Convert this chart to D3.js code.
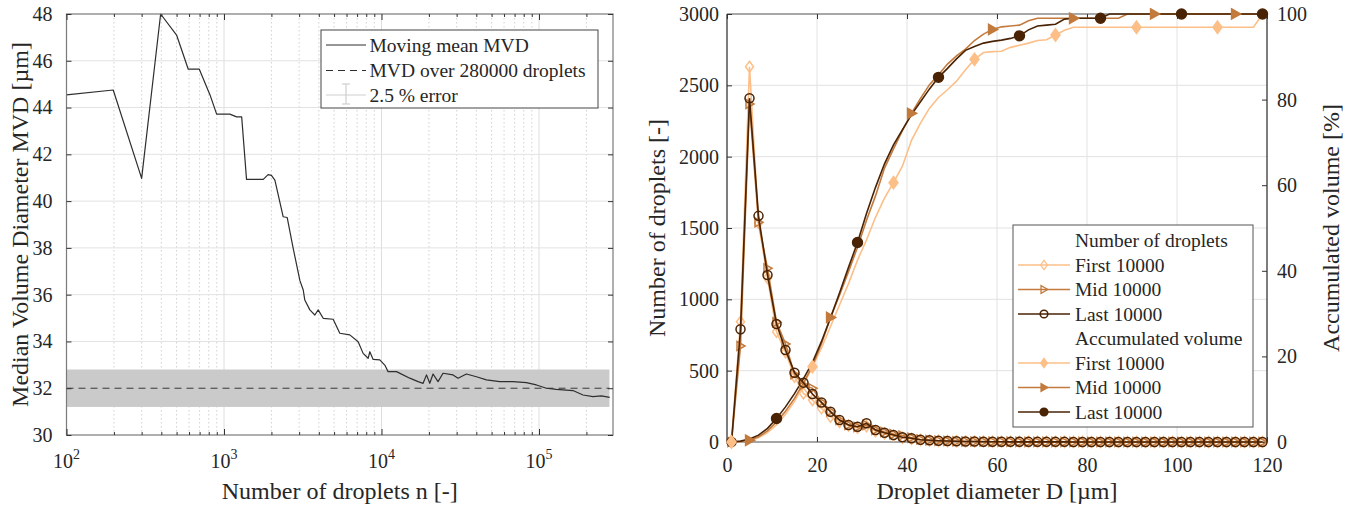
<!DOCTYPE html>
<html><head><meta charset="utf-8">
<script src="https://cdn.jsdelivr.net/npm/d3@7"></script>
<style>body{margin:0;background:#fff}svg{font-family:"Liberation Serif","Times New Roman",serif}</style>
</head><body><script>
// ---------------- DATA: left chart ----------------
const mvdN = [100,198,300,396,500,593,697,815,898,1089,1202,1295,1390,1775,1906,2000,2104,2376,2518,2750,3034,3185,3258,3508,3774,3963,4265,4933,5435,6290,7107,7645,8225,8430,8850,9750,10490,11010,12450,15130,17080,18370,19310,20250,21250,22850,24590,28460,30620,34600,40060,46380,56310,68440,83180,96300,111500,128900,164300,190300,220100,248900,281000];
const mvdVal = [44.54,44.75,40.97,48.0,47.1,45.64,45.64,44.54,43.72,43.72,43.6,43.6,40.93,40.93,41.13,41.1,40.9,39.33,39.3,37.98,36.6,36.2,35.77,35.35,35.13,35.35,34.99,34.95,34.35,34.28,33.99,33.49,33.28,33.56,33.23,33.21,32.99,32.71,32.71,32.43,32.28,32.21,32.57,32.21,32.61,32.28,32.64,32.57,32.43,32.61,32.49,32.36,32.28,32.28,32.24,32.14,32.0,31.95,31.9,31.71,31.64,31.67,31.61];
const mvdOverall = 32.0;      // MVD over 280000 droplets
const errPct = 2.5;           // % error band
const nTotal = 280000;
const yTicksL = [30,32,34,36,38,40,42,44,46,48];
const xDecadesL = [100,1000,10000,100000];
const xExpLabelsL = ["2","3","4","5"];
const legendL = ["Moving mean MVD","MVD over 280000 droplets","2.5 % error"];

// ---------------- DATA: right chart ----------------
const diam = [1,3,5,7,9,11,13,15,17,19,21,23,25,27,29,31,33,35,37,39,41,43,45,47,49,51,53,55,57,59,61,63,65,67,69,71,73,75,77,79,81,83,85,87,89,91,93,95,97,99,101,103,105,107,109,111,113,115,117,119];
const countFirst = [10,843,2630,1535,1150,773,630,458,341,294,236,177,140,115,100,110,75,60,45,30,22,15,11,8,6,5,4,3,3,2,2,2,1,1,1,1,1,1,1,1,0,0,0,0,0,0,0,0,0,0,0,0,0,0,0,0,0,0,0,0];
const countMid   = [0,673,2370,1540,1217,840,687,475,400,376,280,215,155,120,105,120,85,70,55,45,30,18,13,9,7,5,4,3,3,2,2,2,1,1,1,1,1,1,1,1,0,0,0,0,0,0,0,0,0,0,0,0,0,0,0,0,0,0,0,0];
const countLast  = [0,790,2410,1585,1170,827,645,486,416,336,277,212,154,119,107,131,84,65,49,33,26,16,12,9,7,5,4,3,2,2,2,1,1,1,1,1,1,1,0,0,0,0,0,0,0,0,0,0,0,0,0,0,0,0,0,0,0,0,0,0];
const accFirst = [0,0.1,0.3,1.0,2.2,4.0,6.5,9.5,13.3,17.6,22.0,27.0,32.0,37.0,42.5,47.2,52.5,57.0,60.6,64.5,70.5,74.5,78.0,80.5,82.3,84.3,87.0,89.4,91.0,91.2,91.3,92.2,92.7,93.2,93.8,94.0,95.1,96.2,96.9,96.9,96.9,96.9,96.9,96.9,96.9,96.9,96.9,96.9,96.9,96.9,96.9,96.9,96.9,96.9,96.9,96.9,96.9,96.9,96.9,100];
const accMid   = [0,0.1,0.4,1.2,2.6,4.7,7.2,10.2,13.8,17.8,23.0,29.1,34.3,39.8,45.5,51.8,57.5,64.0,68.5,72.8,76.8,80.3,83.5,85.8,88.3,90.2,91.8,93.8,95.3,96.4,97.0,97.2,97.4,98.4,99.0,99.0,99.0,99.0,99.0,99.0,99.0,99.0,99.0,99.0,100,100,100,100,100,100,100,100,100,100,100,100,100,100,100,100];
const accLast  = [0,0.2,0.7,1.6,3.2,5.5,8.2,11.3,14.8,18.6,23.5,29.0,34.8,40.8,46.6,53.4,59.5,65.0,69.4,73.0,76.5,79.5,82.5,85.2,87.3,89.5,91.5,92.4,93.2,93.6,93.9,94.3,94.9,96.3,97.2,97.4,97.6,98.8,99.0,99.0,99.0,99.0,100,100,100,100,100,100,100,100,100,100,100,100,100,100,100,100,100,100];
const seriesNames = ["First 10000","Mid 10000","Last 10000"];
const countTicks = [0,500,1000,1500,2000,2500,3000];
const accTicks = [0,20,40,60,80,100];
const diamTicks = [0,20,40,60,80,100,120];

// ---------------- SETUP ----------------
const W=1358,H=508;
const svg=d3.select("body").append("svg").attr("width",W).attr("height",H);
const TXT="#262626";
const colors=["#fdbf88","#c27a3d","#4a2305"];

function styleAxis(g, fs){
  g.select(".domain").remove();
  g.selectAll(".tick line").attr("stroke","#333").attr("stroke-width",1);
  g.selectAll(".tick text").attr("fill",TXT).attr("font-size",fs).attr("font-family",'"Liberation Serif",serif');
}

// ================= LEFT CHART =================
const L={x0:66.5,x1:613,y0:14,y1:435};
const xL=d3.scaleLog().domain([100,295000]).range([L.x0,L.x1]);
const yL=d3.scaleLinear().domain([30,48]).range([L.y1,L.y0]);
const gL=svg.append("g");
const minorL=[];
xDecadesL.forEach(d=>{for(let k=2;k<=9;k++){const v=d*k; if(v<295000) minorL.push(v);}});
gL.selectAll(".mg").data(minorL).join("line")
  .attr("x1",d=>xL(d)).attr("x2",d=>xL(d)).attr("y1",L.y0).attr("y2",L.y1)
  .attr("stroke","#c4c4c4").attr("stroke-width",0.8).attr("stroke-dasharray","1.5,2.5");
gL.selectAll(".Mg").data(xDecadesL.slice(1)).join("line")
  .attr("x1",d=>xL(d)).attr("x2",d=>xL(d)).attr("y1",L.y0).attr("y2",L.y1)
  .attr("stroke","#dedede").attr("stroke-width",1);
gL.selectAll(".yg").data(yTicksL.slice(1,-1)).join("line")
  .attr("x1",L.x0).attr("x2",L.x1).attr("y1",d=>yL(d)).attr("y2",d=>yL(d))
  .attr("stroke","#e2e2e2").attr("stroke-width",1);
// error band
const bandTop=yL(mvdOverall*(1+errPct/100)), bandBot=yL(mvdOverall*(1-errPct/100));
gL.append("rect").attr("x",xL(100)).attr("width",xL(nTotal)-xL(100))
  .attr("y",bandTop).attr("height",bandBot-bandTop).attr("fill","#cacaca");
// dashed overall
gL.append("line").attr("x1",xL(100)).attr("x2",xL(nTotal)).attr("y1",yL(mvdOverall)).attr("y2",yL(mvdOverall))
  .attr("stroke","#3a3a3a").attr("stroke-width",1).attr("stroke-dasharray","7,5");
// moving mean
gL.append("path").datum(mvdN.map((n,i)=>[n,mvdVal[i]]))
  .attr("d",d3.line().x(d=>xL(d[0])).y(d=>yL(d[1])))
  .attr("fill","none").attr("stroke","#2e2e2e").attr("stroke-width",1.2).attr("stroke-linejoin","round");
// frame
gL.append("rect").attr("x",L.x0).attr("y",L.y0).attr("width",L.x1-L.x0).attr("height",L.y1-L.y0)
  .attr("fill","none").attr("stroke","#7a7a7a").attr("stroke-width",1.2);
// axes
styleAxis(gL.append("g").attr("transform",`translate(${L.x0},0)`)
  .call(d3.axisLeft(yL).tickValues(yTicksL).tickSize(-5).tickPadding(14).tickFormat(d3.format("d"))),20);
styleAxis(gL.append("g").attr("transform",`translate(${L.x1},0)`)
  .call(d3.axisRight(yL).tickValues(yTicksL).tickSize(-5).tickFormat("")),20);
styleAxis(gL.append("g").attr("transform",`translate(0,${L.y1})`)
  .call(d3.axisBottom(xL).tickValues(xDecadesL).tickSize(-6).tickFormat("")),20);
styleAxis(gL.append("g").attr("transform",`translate(0,${L.y1})`)
  .call(d3.axisBottom(xL).tickValues(minorL).tickSize(-3).tickFormat("")),20);
styleAxis(gL.append("g").attr("transform",`translate(0,${L.y0})`)
  .call(d3.axisTop(xL).tickValues(xDecadesL).tickSize(-6).tickFormat("")),20);
styleAxis(gL.append("g").attr("transform",`translate(0,${L.y0})`)
  .call(d3.axisTop(xL).tickValues(minorL).tickSize(-3).tickFormat("")),20);
// x tick labels with superscript
xDecadesL.forEach((d,i)=>{
  const t=gL.append("text").attr("x",xL(d)).attr("y",468).attr("text-anchor","middle")
    .attr("fill",TXT).attr("font-size",20);
  t.append("tspan").text("10");
  t.append("tspan").attr("dy",-9).attr("font-size",14).text(xExpLabelsL[i]);
});
// axis labels
gL.append("text").attr("x",(L.x0+L.x1)/2).attr("y",499).attr("text-anchor","middle")
  .attr("font-size",24).attr("fill",TXT).text("Number of droplets n [-]");
gL.append("text").attr("transform",`translate(20,${(L.y0+L.y1)/2}) rotate(-90)`).attr("dy","0.35em")
  .attr("text-anchor","middle").attr("font-size",24).attr("fill",TXT).text("Median Volume Diameter MVD [µm]");
// legend
const lg=gL.append("g");
lg.append("rect").attr("x",321).attr("y",30).attr("width",277).attr("height",78).attr("fill","#fff").attr("stroke","#444").attr("stroke-width",1);
const lgY=[45,70.5,95];
lg.append("line").attr("x1",326).attr("x2",366).attr("y1",lgY[0]).attr("y2",lgY[0]).attr("stroke","#2e2e2e").attr("stroke-width",1.2);
lg.append("line").attr("x1",326).attr("x2",366).attr("y1",lgY[1]).attr("y2",lgY[1]).attr("stroke","#2e2e2e").attr("stroke-width",1.2).attr("stroke-dasharray","7,5");
lg.append("line").attr("x1",326).attr("x2",366).attr("y1",lgY[2]).attr("y2",lgY[2]).attr("stroke","#cfcfcf").attr("stroke-width",1.2);
lg.append("line").attr("x1",346).attr("x2",346).attr("y1",lgY[2]-11).attr("y2",lgY[2]+9).attr("stroke","#cfcfcf").attr("stroke-width",1.2);
lg.append("line").attr("x1",342).attr("x2",350).attr("y1",lgY[2]-11).attr("y2",lgY[2]-11).attr("stroke","#cfcfcf").attr("stroke-width",1.2);
lg.append("line").attr("x1",342).attr("x2",350).attr("y1",lgY[2]+9).attr("y2",lgY[2]+9).attr("stroke","#cfcfcf").attr("stroke-width",1.2);
legendL.forEach((s,i)=>lg.append("text").attr("x",369.5).attr("y",lgY[i]).attr("dy","0.35em")
  .attr("font-size",19.5).attr("fill",TXT).text(s));

// ================= RIGHT CHART =================
const R={x0:727,x1:1267,y0:14,y1:442};
const xR=d3.scaleLinear().domain([0,120]).range([R.x0,R.x1]);
const yC=d3.scaleLinear().domain([0,3000]).range([R.y1,R.y0]);
const yA=d3.scaleLinear().domain([0,100]).range([R.y1,R.y0]);
const gR=svg.append("g");
gR.selectAll(".vg").data(diamTicks.slice(1,-1)).join("line")
  .attr("x1",d=>xR(d)).attr("x2",d=>xR(d)).attr("y1",R.y0).attr("y2",R.y1)
  .attr("stroke","#e2e2e2").attr("stroke-width",1);
gR.selectAll(".hg").data(countTicks.slice(1,-1)).join("line")
  .attr("x1",R.x0).attr("x2",R.x1).attr("y1",d=>yC(d)).attr("y2",d=>yC(d))
  .attr("stroke","#e2e2e2").attr("stroke-width",1);
// frame
gR.append("line").attr("x1",R.x0).attr("x2",R.x1).attr("y1",R.y0).attr("y2",R.y0).attr("stroke","#8a8a8a").attr("stroke-width",1.3);
gR.append("line").attr("x1",R.x0).attr("x2",R.x1).attr("y1",R.y1).attr("y2",R.y1).attr("stroke","#8a8a8a").attr("stroke-width",1.3);
gR.append("line").attr("x1",R.x0).attr("x2",R.x0).attr("y1",R.y0).attr("y2",R.y1).attr("stroke","#262626").attr("stroke-width",1.2);
gR.append("line").attr("x1",R.x1).attr("x2",R.x1).attr("y1",R.y0).attr("y2",R.y1).attr("stroke","#262626").attr("stroke-width",1.2);
styleAxis(gR.append("g").attr("transform",`translate(${R.x0},0)`)
  .call(d3.axisLeft(yC).tickValues(countTicks).tickSize(-5).tickPadding(8).tickFormat(d3.format("d"))),20);
styleAxis(gR.append("g").attr("transform",`translate(${R.x1},0)`)
  .call(d3.axisRight(yA).tickValues(accTicks).tickSize(-5).tickPadding(10).tickFormat(d3.format("d"))),20);
styleAxis(gR.append("g").attr("transform",`translate(0,${R.y1})`)
  .call(d3.axisBottom(xR).tickValues(diamTicks).tickSize(-5).tickPadding(16).tickFormat(d3.format("d"))),20);
styleAxis(gR.append("g").attr("transform",`translate(0,${R.y0})`)
  .call(d3.axisTop(xR).tickValues(diamTicks).tickSize(-5).tickFormat("")),20);

// marker shapes
const shapes={
  diamond:"M0,-5.5L4,0L0,5.5L-4,0Z",
  tri:"M-3.5,-4.5L4.5,0L-3.5,4.5Z",
  circle:null
};
function drawMarker(g,type,x,y,color,filled,scale=1){
  if(type==="circle"){
    g.append("circle").attr("cx",x).attr("cy",y).attr("r",4.5*scale)
      .attr("fill",filled?color:"none").attr("stroke",color).attr("stroke-width",1.5);
  } else {
    g.append("path").attr("d",shapes[type]).attr("transform",`translate(${x},${y}) scale(${scale})`)
      .attr("fill",filled?color:"none").attr("stroke",color).attr("stroke-width",1.5);
  }
}
const mtypes=["diamond","tri","circle"];
const counts=[countFirst,countMid,countLast];
const accs=[accFirst,accMid,accLast];
const markerStart=[0,2,5];
const lineC=d3.line().x((d,i)=>xR(diam[i])).y(d=>yC(d));
const lineA=d3.line().x((d,i)=>xR(diam[i])).y(d=>yA(d));
// accumulated volume
accs.forEach((arr,s)=>{
  gR.append("path").datum(arr).attr("d",lineA).attr("fill","none").attr("stroke",colors[s]).attr("stroke-width",1.6);
});
// counts
counts.forEach((arr,s)=>{
  gR.append("path").datum(arr).attr("d",lineC).attr("fill","none").attr("stroke",colors[s]).attr("stroke-width",1.6);
  const mg=gR.append("g");
  arr.forEach((v,i)=>drawMarker(mg,mtypes[s],xR(diam[i]),yC(v),colors[s],false));
});
accs.forEach((arr,s)=>{
  const mg=gR.append("g");
  arr.forEach((v,i)=>{ if(i>=markerStart[s] && (i-markerStart[s])%9===0) drawMarker(mg,mtypes[s],xR(diam[i]),yA(v),colors[s],true,1.1); });
});
// axis labels
gR.append("text").attr("x",(R.x0+R.x1)/2).attr("y",499).attr("text-anchor","middle")
  .attr("font-size",24).attr("fill",TXT).text("Droplet diameter D [µm]");
gR.append("text").attr("transform",`translate(657,228) rotate(-90)`).attr("dy","0.35em")
  .attr("text-anchor","middle").attr("font-size",24).attr("fill",TXT).text("Number of droplets [-]");
gR.append("text").attr("transform",`translate(1331,228) rotate(-90)`).attr("dy","0.35em")
  .attr("text-anchor","middle").attr("font-size",24).attr("fill",TXT).text("Accumulated volume [%]");
// legend
const rg=gR.append("g");
rg.append("rect").attr("x",1013).attr("y",225).attr("width",240).attr("height",202).attr("fill","#fff").attr("stroke","#555").attr("stroke-width",1);
const rowY=[240.5,265,289.5,314,338.5,363,387.5,412];
const rowText=["Number of droplets",...seriesNames,"Accumulated volume",...seriesNames];
rowText.forEach((t,i)=>rg.append("text").attr("x",1075).attr("y",rowY[i]).attr("dy","0.35em")
  .attr("font-size",19.5).attr("fill",TXT).text(t));
[1,2,3,5,6,7].forEach((r,k)=>{
  const s=k%3, filled=k>=3;
  rg.append("line").attr("x1",1018).attr("x2",1070).attr("y1",rowY[r]).attr("y2",rowY[r]).attr("stroke",colors[s]).attr("stroke-width",1.6);
  drawMarker(rg,mtypes[s],1044,rowY[r],colors[s],filled,0.85);
});
</script></body></html>
